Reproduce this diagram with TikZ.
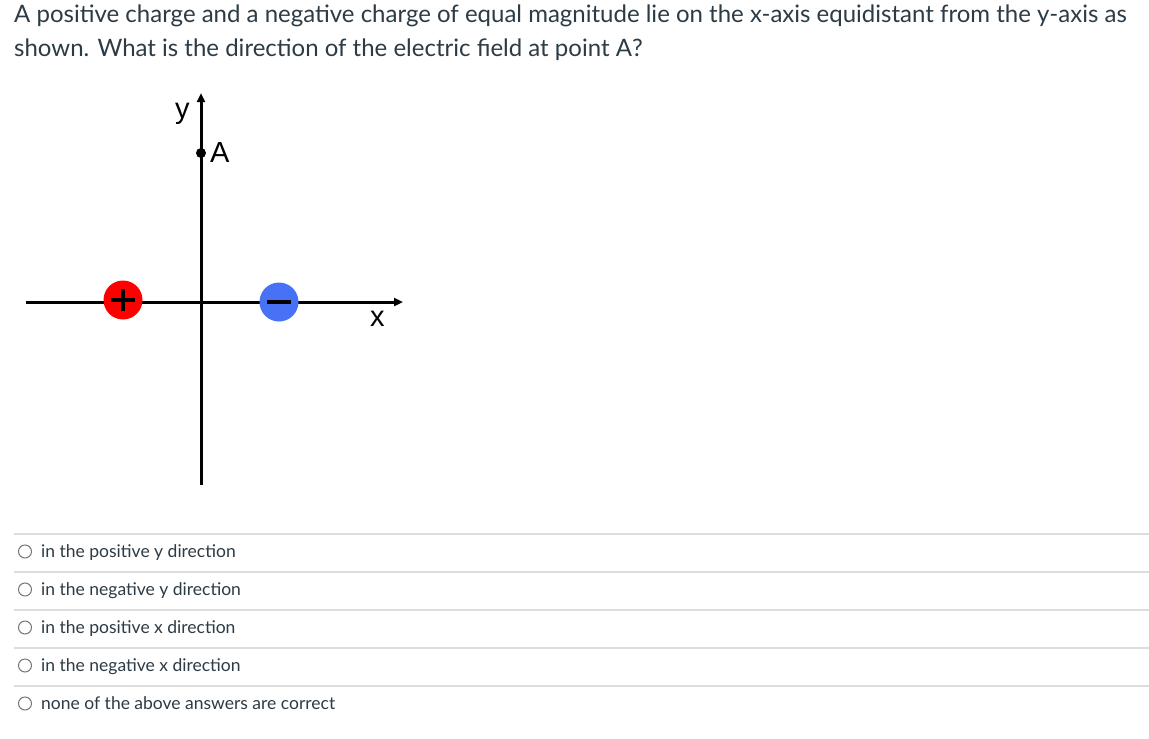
\documentclass[tikz,border=0pt]{standalone}
\usepackage{fontspec}
\setmainfont{Lato}
\newfontfamily\diagfont{Liberation Sans}
\usetikzlibrary{arrows.meta}
\definecolor{txt}{HTML}{2D3B45}
\definecolor{sep}{HTML}{DDDDDD}
\definecolor{radio}{HTML}{777777}
\definecolor{posred}{HTML}{FF0000}
\definecolor{negblue}{RGB}{72,114,245}
\tikzset{
  qtext/.style={anchor=base west,inner sep=0pt,text=txt,font=\fontsize{24}{28}\selectfont},
  opttext/.style={anchor=base west,inner sep=0pt,text=txt,font=\fontsize{17.5}{21}\selectfont},
  sepline/.style={draw=sep,line width=1.3pt},
  radiobtn/.style={circle,draw=radio,line width=1pt,minimum size=13pt,inner sep=0pt},
  axis/.style={line width=3pt,-{Triangle[length=9pt,width=8pt]}},
  charge/.style={circle,minimum size=39pt,inner sep=0pt},
  sign/.style={line width=3.5pt},
  dlabel/.style={inner sep=0pt,font=\diagfont\fontsize{29}{30}\selectfont,anchor=base west}
}
\begin{document}
\begin{tikzpicture}[x=1pt,y=-1pt]
\useasboundingbox (0,0) rectangle (1149,739);
\fill[white] (0,0) rectangle (1149,739);
% question
\node[qtext] (q1) at (14,22) {A positive charge and a negative charge of equal magnitude lie on the x-axis equidistant from the y-axis as};
\node[qtext] (q2) at (14,56) {shown. What is the direction of the electric field at point A?};
% axes
\coordinate (xl) at (26,302);
\coordinate (xr) at (403,302);
\coordinate (yb) at (201,485);
\coordinate (yt) at (201,93);
\draw[axis] (xl) -- (xr);
\draw[axis] (yb) -- (yt);
% charges
\node[charge,fill=posred] (pos) at (123,300) {};
\draw[sign] ([xshift=-12pt]pos.center) -- ([xshift=12pt]pos.center);
\draw[sign] ([yshift=-11pt]pos.center) -- ([yshift=11pt]pos.center);
\node[charge,fill=negblue] (neg) at (279,302) {};
\draw[line width=4pt] ([xshift=-12pt]neg.center) -- ([xshift=12pt]neg.center);
% point A
\node[circle,fill=black,minimum size=10pt,inner sep=0pt] (A) at (201,153) {};
\node[dlabel] (Alab) at (210,162) {A};
\node[dlabel] (ylab) at (175,118) {y};
\node[dlabel] (xlab) at (370,326) {x};
% options
\foreach \i in {0,...,4} {
  \draw[sepline] (14,534+38*\i) -- (1149,534+38*\i);
}
\node[radiobtn] (r1) at (25,551.5) {};
\node[radiobtn] (r2) at (25,589.5) {};
\node[radiobtn] (r3) at (25,627.5) {};
\node[radiobtn] (r4) at (25,665.5) {};
\node[radiobtn] (r5) at (25,703.5) {};
\node[opttext] (o1) at (41,557) {in the positive y direction};
\node[opttext] (o2) at (41,595) {in the negative y direction};
\node[opttext] (o3) at (41,633) {in the positive x direction};
\node[opttext] (o4) at (41,671) {in the negative x direction};
\node[opttext] (o5) at (41,709) {none of the above answers are correct};
\end{tikzpicture}
\end{document}
